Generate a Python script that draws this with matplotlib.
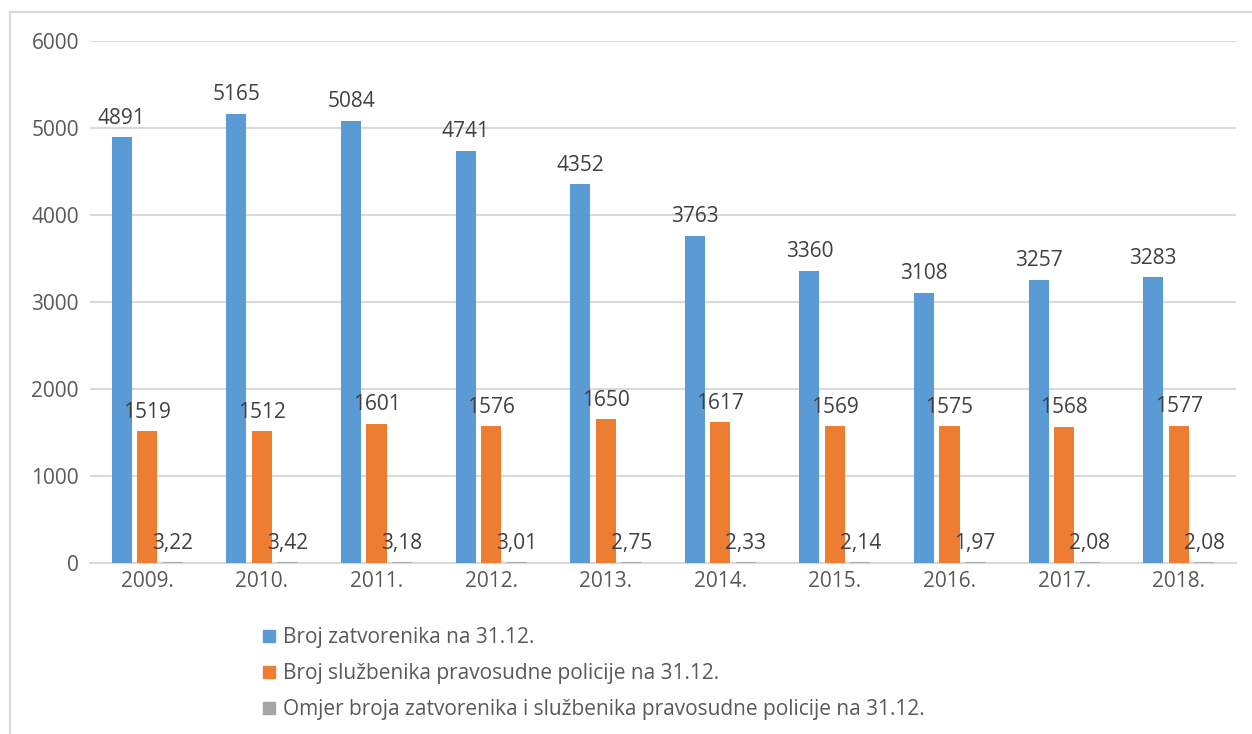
import numpy as np
from matplotlib import pyplot as plt
from matplotlib.lines import Line2D

years = ['2009.', '2010.', '2011.', '2012.', '2013.', '2014.', '2015.', '2016.', '2017.', '2018.']
zatvorenici = [4891, 5165, 5084, 4741, 4352, 3763, 3360, 3108, 3257, 3283]
sluzbenici = [1519, 1512, 1601, 1576, 1650, 1617, 1569, 1575, 1568, 1577]
omjer = [3.22, 3.42, 3.18, 3.01, 2.75, 2.33, 2.14, 1.97, 2.08, 2.08]
omjer_labels = ['3,22', '3,42', '3,18', '3,01', '2,75', '2,33', '2,14', '1,97', '2,08', '2,08']

series_names = ['Broj zatvorenika na 31.12.',
                'Broj službenika pravosudne policije na 31.12.',
                'Omjer broja zatvorenika i službenika pravosudne policije na 31.12.']
colors = ['#5b9bd5', '#ed7d31', '#a5a5a5']
text_color = '#404040'

plt.rcParams['font.family'] = ['Open Sans', 'DejaVu Sans']

fig = plt.figure(figsize=(12.52, 7.34), dpi=100)
W, H = 1252, 734
ax = fig.add_axes([90 / W, 1 - 563 / H, (1236 - 90) / W, (563 - 41) / H])

x = np.arange(len(years))
width = 0.175
offset = 0.222

b1 = ax.bar(x - offset, zatvorenici, width, color=colors[0], zorder=3)
b2 = ax.bar(x, sluzbenici, width, color=colors[1], zorder=3)
b3 = ax.bar(x + offset, omjer, width, color=colors[2], edgecolor=colors[2], linewidth=1.2, zorder=3)

#value labels above bars
for bars, labels in [(b1, [str(v) for v in zatvorenici]),
                     (b2, [str(v) for v in sluzbenici]),
                     (b3, omjer_labels)]:
    for bar, lab in zip(bars, labels):
        ax.annotate(lab, xy=(bar.get_x() + bar.get_width() / 2, bar.get_height()),
                    xytext=(0, 6), textcoords='offset points',
                    ha='center', va='bottom', fontsize=15, color=text_color)

ax.set_xlim(-0.5, len(years) - 0.5)
ax.set_ylim(0, 6000)
ax.set_yticks(range(0, 6001, 1000))
ax.set_xticks(x)
ax.set_xticklabels(years)
ax.tick_params(axis='both', length=0, labelsize=15, labelcolor='#595959')
ax.tick_params(axis='y', pad=8)
ax.tick_params(axis='x', pad=6)

ax.grid(axis='y', color='#d9d9d9', linewidth=1.5, zorder=0)
for s in ['top', 'right', 'left']:
    ax.spines[s].set_visible(False)
ax.spines['bottom'].set_color('#d9d9d9')
ax.spines['bottom'].set_linewidth(1.5)

#legend below the chart
handles = [Line2D([], [], marker='s', linestyle='', markersize=9, color=c) for c in colors]
fig.legend(handles, series_names, loc='upper left', bbox_to_anchor=(252 / W, 1 - 617 / H),
           frameon=False, fontsize=15, labelcolor='#595959', handlelength=0.6,
           handletextpad=0.4, labelspacing=0.72, borderpad=0)

#outer frame (left and top edges)
fig.add_artist(Line2D([10 / W, 10 / W], [0, 1 - 12 / H], color='#d9d9d9', linewidth=1.5))
fig.add_artist(Line2D([10 / W, 1], [1 - 12 / H, 1 - 12 / H], color='#d9d9d9', linewidth=1.5))

fig.savefig('out.png', dpi=100)
